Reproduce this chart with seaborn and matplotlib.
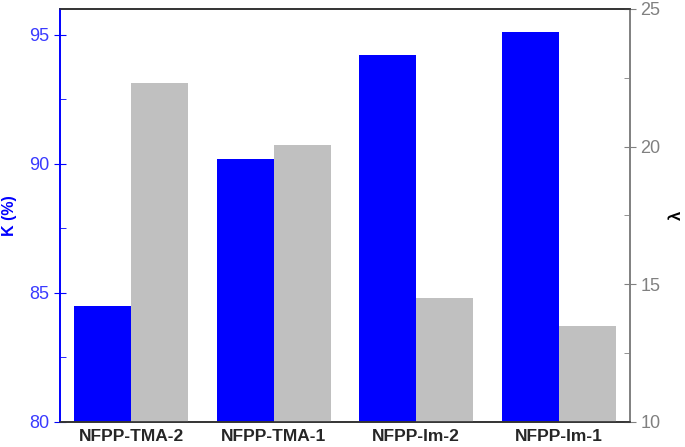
import pandas as pd
import matplotlib.pyplot as plt
import seaborn as sns

# Values
samples = ['NFPP-TMA-2', 'NFPP-TMA-1', 'NFPP-Im-2', 'NFPP-Im-1']
k_values = [84.5, 90.2, 94.2, 95.1]
lam_values = [22.3, 20.05, 14.5, 13.5]

df = pd.DataFrame({
    'sample': samples * 2,
    'var': ['K'] * 4 + ['lam'] * 4,
    'value': k_values + lam_values,
})

sns.set_style('white')
plt.rcParams['font.family'] = ['Liberation Sans', 'DejaVu Sans']

fig = plt.figure(figsize=(6.85, 4.47), dpi=100)
ax1 = fig.add_axes([0.0876, 0.056, 0.832, 0.924])
ax2 = ax1.twinx()

pal = {'K': '#0000ff', 'lam': '#c0c0c0'}
sns.barplot(data=df[df['var'] == 'K'], x='sample', y='value', hue='var',
            hue_order=['K', 'lam'], order=samples, palette=pal, width=0.8,
            dodge=True, saturation=1, linewidth=0, legend=False, ax=ax1)
sns.barplot(data=df[df['var'] == 'lam'], x='sample', y='value', hue='var',
            hue_order=['K', 'lam'], order=samples, palette=pal, width=0.8,
            dodge=True, saturation=1, linewidth=0, legend=False, ax=ax2)

ax1.set_xlim(-0.5, 3.5)
ax1.set_ylim(80, 96)
ax2.set_ylim(10, 25)
ax1.set_yticks([80, 85, 90, 95])
ax1.set_yticks([82.5, 87.5, 92.5], minor=True)
ax2.set_yticks([10, 15, 20, 25])
ax2.set_yticks([12.5, 17.5, 22.5], minor=True)

ax1.set_xlabel('')
ax2.set_xlabel('')
ax1.set_ylabel('K (%)', color='#0000ff', fontsize=11.5, fontweight='bold')
ax1.yaxis.set_label_coords(-0.075, 0.5)
ax2.set_ylabel('λ', color='black', fontsize=12, fontweight='bold', labelpad=6)

ax1.tick_params(axis='x', length=0, labelsize=12.5, pad=5)
for lbl in ax1.get_xticklabels():
    lbl.set_fontweight('bold')
ax1.tick_params(axis='y', which='major', direction='inout', length=8,
                color='#0000ff', labelcolor='#3a3aff', labelsize=13)
ax1.tick_params(axis='y', which='minor', direction='in', length=4,
                color='#0000ff', left=True)
ax2.tick_params(axis='y', which='major', direction='inout', length=8,
                color='#808080', labelcolor='#808080', labelsize=13)
ax2.tick_params(axis='y', which='minor', direction='in', length=4,
                color='#808080', right=True)

for ax in (ax1, ax2):
    ax.spines['left'].set_color('#0000ff')
    ax.spines['right'].set_color('#808080')
    ax.spines['top'].set_color('#333333')
    ax.spines['bottom'].set_color('#333333')
    for s in ax.spines.values():
        s.set_linewidth(1.2)

fig.savefig('out.png', dpi=100)
